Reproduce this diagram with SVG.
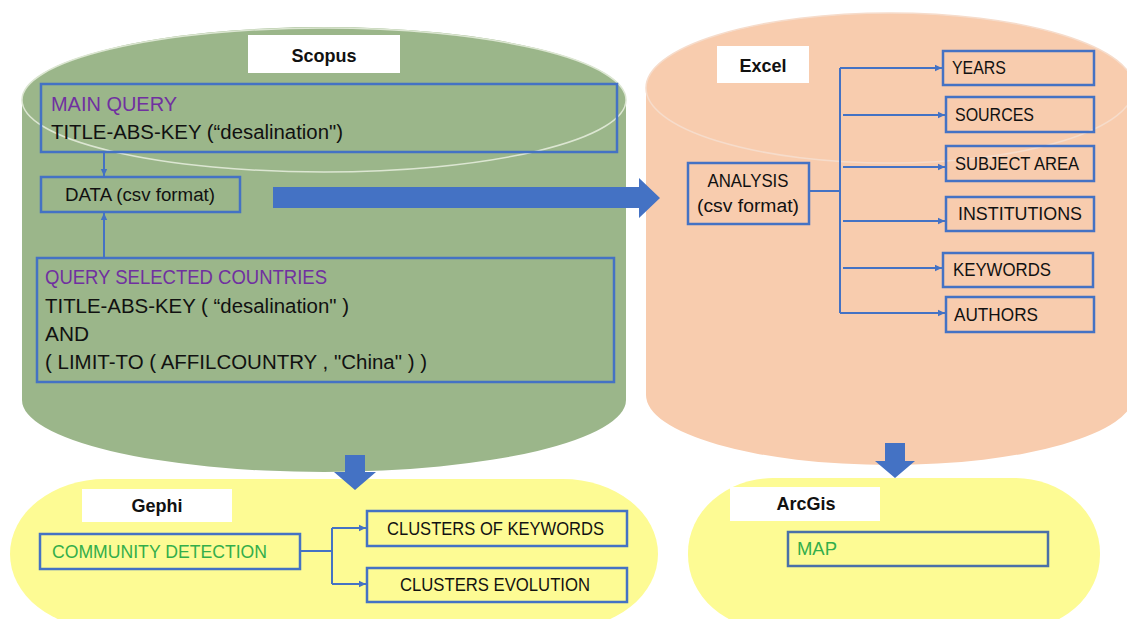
<svg xmlns="http://www.w3.org/2000/svg" width="1127" height="619" viewBox="0 0 1127 619">
<style>
.t{font-family:"Liberation Sans",Arial,sans-serif;font-size:18px;fill:#111}
.q{font-size:20px}
.b{font-weight:bold}
.pu{fill:#7030A0}
.gr{fill:#33AE4A}
.box{fill:none;stroke:#4472C4;stroke-width:2.5}
.lbl{fill:#fff}
.con{fill:none;stroke:#4472C4;stroke-width:2}
.bigarrow{fill:#4472C4}
</style>
<defs>
<marker id="ah" markerUnits="userSpaceOnUse" markerWidth="8" markerHeight="8" refX="7" refY="4" orient="auto">
<path d="M0,0.8 L7,4 L0,7.2 Z" fill="#4472C4"/>
</marker>
</defs>
<rect width="1127" height="619" fill="#fff"/>

<g id="scopus">
<path d="M22,100 A302,73 0 0 1 626,100 L626,400 A302,72 0 0 1 22,400 Z" fill="#9BB68A"/>
<ellipse cx="324" cy="100" rx="302" ry="72" fill="none" stroke="#DCE6D2" stroke-width="1.5"/>
<rect class="lbl" x="248" y="35" width="152" height="38"/>
<text class="t b" x="324" y="62" text-anchor="middle">Scopus</text>
</g>

<g id="excel">
<path d="M646,88 A244,75 0 0 1 1134,88 L1134,395 A244,70 0 0 1 646,395 Z" fill="#F8CCAE"/>
<ellipse cx="890" cy="88" rx="244" ry="75" fill="none" stroke="#F6DCCB" stroke-width="1.5"/>
<rect class="lbl" x="717" y="46" width="92" height="37"/>
<text class="t b" x="763" y="72" text-anchor="middle">Excel</text>
</g>

<g id="gephi">
<rect x="10" y="479" width="648" height="150" rx="95" ry="75" fill="#FDFB94"/>
<rect class="lbl" x="82" y="489" width="150" height="33"/>
<text class="t b" x="157" y="512" text-anchor="middle">Gephi</text>
</g>

<g id="arcgis">
<rect x="688" y="478" width="412" height="152" rx="85" ry="75" fill="#FDFB94"/>
<rect class="lbl" x="730" y="487" width="150" height="34"/>
<text class="t b" x="806" y="510" text-anchor="middle">ArcGis</text>
</g>

<g id="main-query">
<rect class="box" x="41" y="84" width="576" height="68"/>
<text class="t q pu" x="51" y="111" textLength="126" lengthAdjust="spacingAndGlyphs">MAIN QUERY</text>
<text class="t q" x="51" y="139" textLength="292" lengthAdjust="spacingAndGlyphs">TITLE-ABS-KEY (“desalination")</text>
</g>

<g id="data">
<rect class="box" x="41" y="177" width="199" height="35"/>
<text class="t" x="65" y="201" textLength="150" lengthAdjust="spacingAndGlyphs">DATA (csv format)</text>
</g>

<g id="query-countries">
<rect class="box" x="37" y="258" width="577" height="124"/>
<text class="t q pu" x="45" y="284" textLength="282" lengthAdjust="spacingAndGlyphs">QUERY SELECTED COUNTRIES</text>
<text class="t q" x="45" y="313" textLength="304" lengthAdjust="spacingAndGlyphs">TITLE-ABS-KEY ( “desalination" )</text>
<text class="t q" x="45" y="341" textLength="44" lengthAdjust="spacingAndGlyphs">AND</text>
<text class="t q" x="45" y="369" textLength="382" lengthAdjust="spacingAndGlyphs">( LIMIT-TO ( AFFILCOUNTRY ,  "China" ) )</text>
</g>

<g id="analysis">
<rect class="box" x="688" y="163" width="121" height="61"/>
<text class="t" x="748" y="187" text-anchor="middle" textLength="81" lengthAdjust="spacingAndGlyphs">ANALYSIS</text>
<text class="t" x="748" y="212" text-anchor="middle" textLength="102" lengthAdjust="spacingAndGlyphs">(csv format)</text>
</g>

<g id="years">
<rect class="box" x="943" y="51" width="151" height="34"/>
<text class="t" x="952" y="74" textLength="54" lengthAdjust="spacingAndGlyphs">YEARS</text>
</g>
<g id="sources">
<rect class="box" x="946" y="97" width="148" height="35"/>
<text class="t" x="955" y="121" textLength="79" lengthAdjust="spacingAndGlyphs">SOURCES</text>
</g>
<g id="subject-area">
<rect class="box" x="946" y="146" width="148" height="35"/>
<text class="t" x="955" y="170" textLength="124" lengthAdjust="spacingAndGlyphs">SUBJECT AREA</text>
</g>
<g id="institutions">
<rect class="box" x="946" y="197" width="148" height="34"/>
<text class="t" x="958" y="220" textLength="124" lengthAdjust="spacingAndGlyphs">INSTITUTIONS</text>
</g>
<g id="keywords">
<rect class="box" x="943" y="253" width="150" height="34"/>
<text class="t" x="953" y="276" textLength="98" lengthAdjust="spacingAndGlyphs">KEYWORDS</text>
</g>
<g id="authors">
<rect class="box" x="946" y="297" width="148" height="35"/>
<text class="t" x="954" y="321" textLength="84" lengthAdjust="spacingAndGlyphs">AUTHORS</text>
</g>

<g id="community-detection">
<rect class="box" x="40" y="534" width="260" height="35"/>
<text class="t gr" x="52" y="558" textLength="215" lengthAdjust="spacingAndGlyphs">COMMUNITY DETECTION</text>
</g>
<g id="clusters-keywords">
<rect class="box" x="367" y="511" width="260" height="35"/>
<text class="t" x="387" y="535" textLength="217" lengthAdjust="spacingAndGlyphs">CLUSTERS OF KEYWORDS</text>
</g>
<g id="clusters-evolution">
<rect class="box" x="367" y="568" width="260" height="34"/>
<text class="t" x="400" y="591" textLength="190" lengthAdjust="spacingAndGlyphs">CLUSTERS EVOLUTION</text>
</g>
<g id="map">
<rect class="box" x="788" y="532" width="260" height="34" style="stroke:#4A70A8"/>
<text class="t gr" x="797" y="555" textLength="40" lengthAdjust="spacingAndGlyphs">MAP</text>
</g>

<g id="connectors">
<line class="con" x1="104" y1="153" x2="104" y2="176" marker-end="url(#ah)"/>
<line class="con" x1="104" y1="257" x2="104" y2="213" marker-end="url(#ah)"/>
<polygon class="bigarrow" points="273,187 639,187 639,178 660,198 639,218 639,208 273,208"/>
<polyline class="con" points="809,191 840,191"/>
<line class="con" x1="840" y1="68" x2="840" y2="313"/>
<line class="con" x1="840" y1="68" x2="942" y2="68" marker-end="url(#ah)"/>
<line class="con" x1="843" y1="115" x2="945" y2="115" marker-end="url(#ah)"/>
<line class="con" x1="843" y1="167" x2="945" y2="167" marker-end="url(#ah)"/>
<line class="con" x1="843" y1="221" x2="945" y2="221" marker-end="url(#ah)"/>
<line class="con" x1="843" y1="268" x2="942" y2="268" marker-end="url(#ah)"/>
<line class="con" x1="840" y1="313" x2="945" y2="313" marker-end="url(#ah)"/>
<polygon class="bigarrow" points="345,455 365,455 365,472 376,472 355,490 334,472 345,472"/>
<polygon class="bigarrow" points="885,443 905,443 905,461 915,461 895,478 875,461 885,461"/>
<line class="con" x1="300" y1="551" x2="332" y2="551"/>
<line class="con" x1="332" y1="528" x2="332" y2="584"/>
<line class="con" x1="332" y1="528" x2="366" y2="528" marker-end="url(#ah)"/>
<line class="con" x1="332" y1="584" x2="366" y2="584" marker-end="url(#ah)"/>
</g>
</svg>
